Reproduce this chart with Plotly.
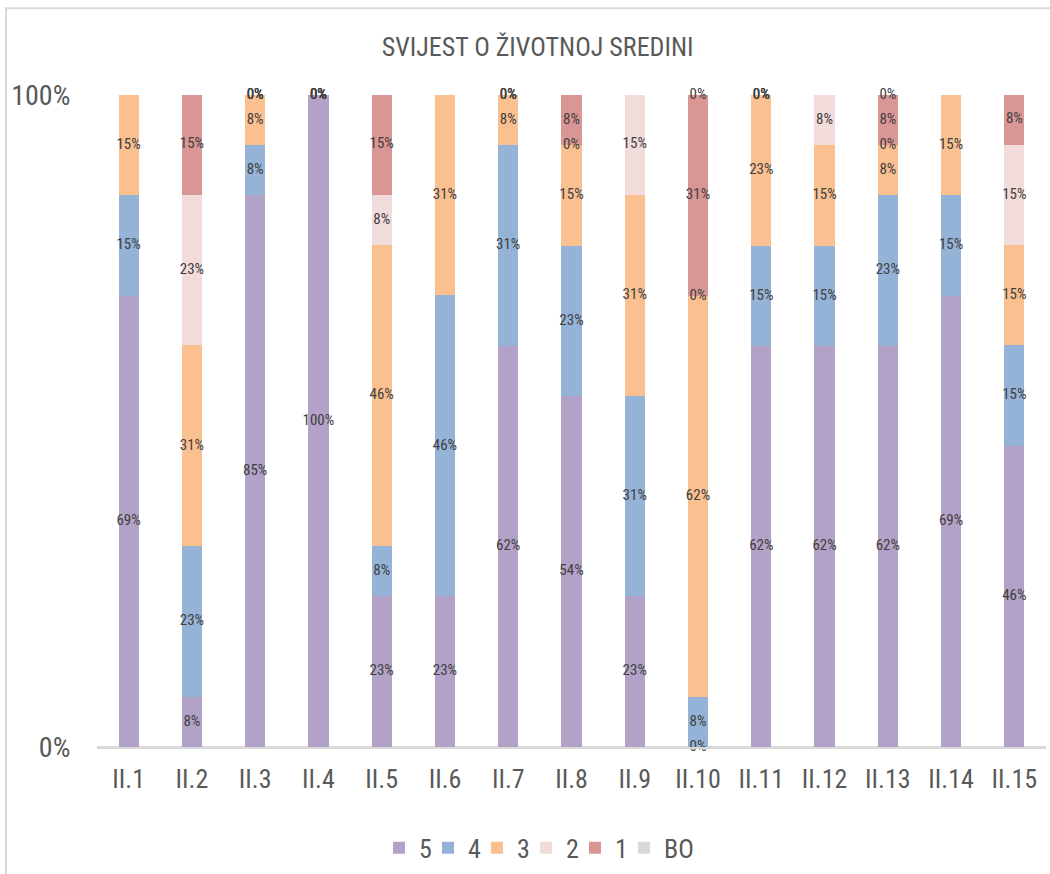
import plotly.graph_objects as go

categories = ["II.1", "II.2", "II.3", "II.4", "II.5", "II.6", "II.7", "II.8",
              "II.9", "II.10", "II.11", "II.12", "II.13", "II.14", "II.15"]
series_names = ["5", "4", "3", "2", "1", "BO"]
s5 = [69.2, 7.7, 84.6, 100, 23.1, 23.1, 61.5, 53.8, 23.1, 0, 61.5, 61.5, 61.5, 69.2, 46.2]
s4 = [15.4, 23.1, 7.7, 0, 7.7, 46.2, 30.8, 23.1, 30.8, 7.7, 15.4, 15.4, 23.1, 15.4, 15.4]
s3 = [15.4, 30.8, 7.7, 0, 46.2, 30.8, 7.7, 15.4, 30.8, 61.5, 23.1, 15.4, 7.7, 15.4, 15.4]
s2 = [0, 23.1, 0, 0, 7.7, 0, 0, 0, 15.4, 0, 0, 7.7, 0, 0, 15.4]
s1 = [0, 15.4, 0, 0, 15.4, 0, 0, 7.7, 0, 30.8, 0, 0, 7.7, 0, 7.7]
sBO = [0] * 15
series_values = [s5, s4, s3, s2, s1, sBO]
colors = ["#B3A2C7", "#95B3D7", "#FAC090", "#F2DCDB", "#D99694", "#D9D9D9"]
y_tickvals = [0, 100]
y_ticktext = ["0%", "100%"]

FONT = "Liberation Sans Narrow, Arial Narrow, Roboto Condensed, Roboto, sans-serif"
TXT = "#595959"

fig = go.Figure()
base = [0.0] * len(categories)
label_traces = []
for name, vals, col in zip(series_names, series_values, colors):
    fig.add_trace(go.Bar(
        x=categories, y=vals, name=name, marker=dict(color=col, line=dict(width=0)),
        hoverinfo="skip", legend="legend2" if name == "BO" else "legend",
    ))
    ys = [b + v / 2 for b, v in zip(base, vals)]
    texts = [f"{round(v)}%" for v in vals]
    label_traces.append(go.Scatter(
        x=categories, y=ys, text=texts, mode="text", showlegend=False,
        textfont=dict(family=FONT, size=15, color="#404040"), hoverinfo="skip",
        cliponaxis=False,
    ))
    base = [b + v for b, v in zip(base, vals)]

for t in label_traces:
    fig.add_trace(t)

legend_common = dict(orientation="h", y=-0.153, xanchor="left", yanchor="middle",
                     traceorder="normal", font=dict(family=FONT, size=26, color=TXT),
                     itemwidth=30, itemsizing="constant")

fig.update_layout(
    width=1050, height=874,
    barmode="stack", bargap=0.68,
    plot_bgcolor="white", paper_bgcolor="white",
    margin=dict(l=97, r=4, t=95, b=126),
    font=dict(family=FONT, color=TXT),
    title=dict(text="SVIJEST O ŽIVOTNOJ SREDINI", x=0.512, y=1 - 47 / 874,
               xanchor="center", yanchor="middle",
               font=dict(family=FONT, size=26, color=TXT)),
    showlegend=True,
    legend=dict(x=(379 - 97) / 949, entrywidth=4, entrywidthmode="pixels", **legend_common),
    legend2=dict(x=(624 - 97) / 949, **legend_common),
    shapes=[dict(type="rect", xref="paper", yref="paper",
                 x0=(6 - 97) / 949, x1=1.02, y0=-0.5, y1=(748 - 8) / 653,
                 line=dict(color="#D9D9D9", width=2), fillcolor="rgba(0,0,0,0)",
                 layer="below")],
)
fig.update_xaxes(range=[-0.5, len(categories) - 0.5],
                 showgrid=False, showline=True, linecolor="#D9D9D9", linewidth=2,
                 ticks="outside", ticklen=8, tickcolor="rgba(0,0,0,0)",
                 tickfont=dict(family=FONT, size=26, color=TXT))
fig.update_yaxes(range=[0, 100], tickvals=y_tickvals, ticktext=y_ticktext,
                 showgrid=True, gridcolor="#4472C4", gridwidth=1.5,
                 zeroline=True, zerolinecolor="#D9D9D9", zerolinewidth=2,
                 ticks="outside", ticklen=20, tickcolor="rgba(0,0,0,0)",
                 tickfont=dict(family=FONT, size=28, color=TXT))

fig.write_html("out.html", config={"displayModeBar": False},
               post_script="document.body.style.margin='0';")
